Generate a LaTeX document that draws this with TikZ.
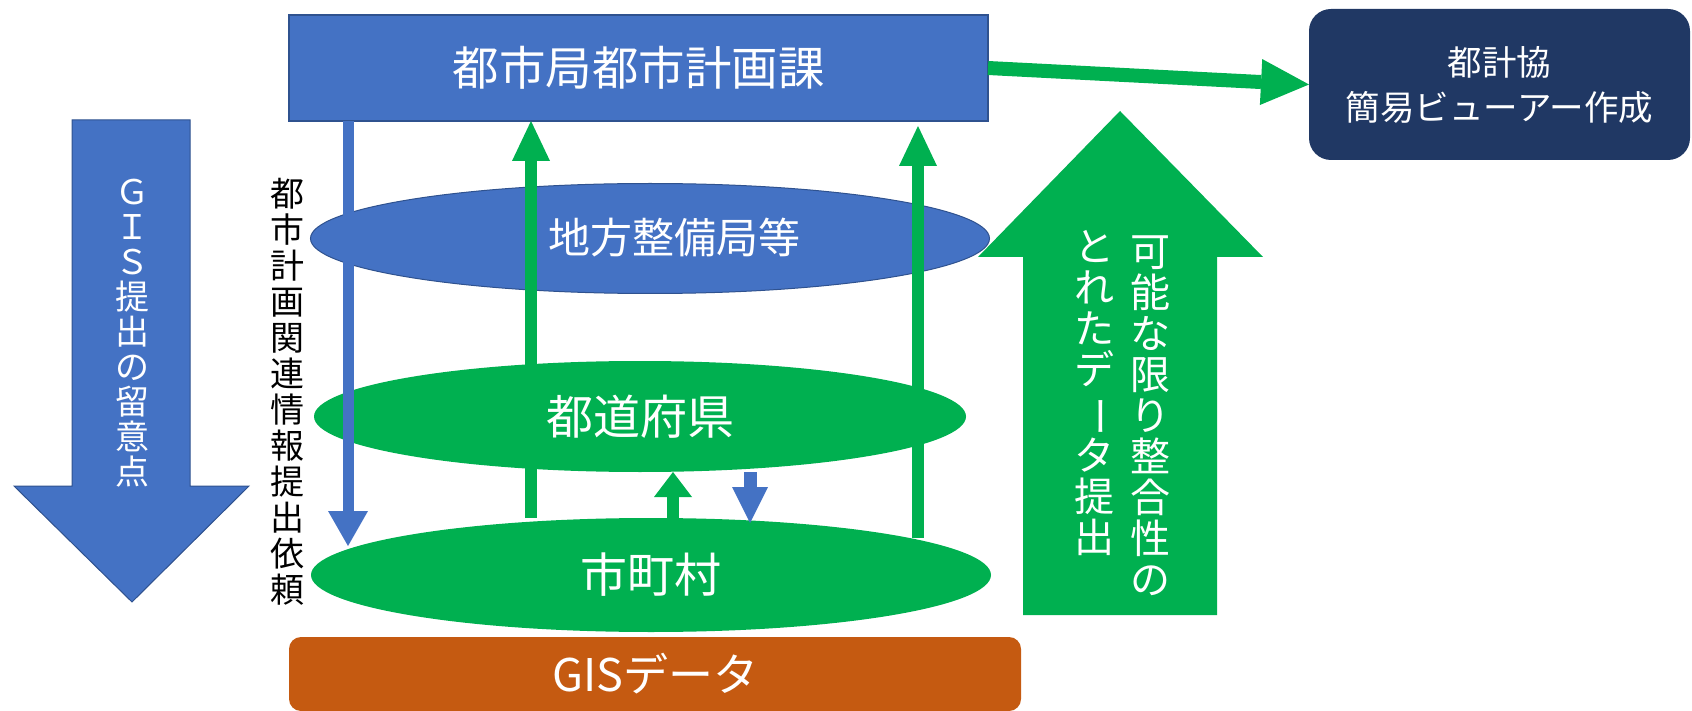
\documentclass[tikz,border=0pt]{standalone}
\usepackage{fontspec}
\setmainfont{Noto Sans CJK JP}
\usepackage{graphicx}
\usetikzlibrary{shapes.geometric,arrows.meta}
\definecolor{mblue}{HTML}{4472C4}
\definecolor{mborder}{HTML}{2F528F}
\definecolor{mgreen}{HTML}{00B050}
\definecolor{mnavy}{HTML}{203864}
\definecolor{morange}{HTML}{C55A11}
\newcommand{\vchoon}{\rotatebox[origin=c]{-90}{ー}}
\begin{document}
\begin{tikzpicture}[x=1pt,y=-1pt,
  every node/.style={inner sep=0pt, outer sep=0pt},
  vtxt/.style={align=center},
  wlbl/.style={text=white},
  garrow/.style={draw=mgreen, line width=12pt, -{Triangle[width=38pt,length=40pt,line width=0pt]}},
  barrow/.style={draw=mblue, line width=11pt, -{Triangle[width=40pt,length=35pt,line width=0pt]}}
]
\useasboundingbox (0,0) rectangle (1692,711);

% big left arrow
\filldraw[fill=mblue, draw=mborder, line width=1pt] (72,120) -- (190,120) -- (190,486) -- (249,486) -- (132,602) -- (14,486) -- (72,486) -- cycle;
\node[vtxt, wlbl, font=\fontsize{34}{35}\selectfont] (ryuui) at (132,333) {Ｇ\\Ｉ\\Ｓ\\提\\出\\の\\留\\意\\点};

% top box
\node[rectangle, fill=mblue, draw=mborder, line width=1.5pt, minimum width=699pt, minimum height=106pt, wlbl, font=\fontsize{46.5}{54}\selectfont] (kacho) at (638.5,68) {都市局都市計画課};

% navy box
\node[rectangle, rounded corners=22pt, fill=mnavy, minimum width=381pt, minimum height=151pt, align=center, wlbl, font=\fontsize{34.5}{45}\selectfont] (toukei) at (1499.5,84.5) {都計協\\簡易ビューアー作成};

% ellipses
\node[ellipse, fill=mblue, draw=mborder, line width=1pt, minimum width=679pt, minimum height=110pt] (chihou) at (650,238.5) {};
\node[wlbl, font=\fontsize{42}{48}\selectfont] (chihoulbl) at (674,238) {地方整備局等};
\node[ellipse, fill=mgreen, minimum width=652pt, minimum height=111pt, wlbl, font=\fontsize{47}{52}\selectfont] (todofuken) at (640,416.5) {都道府県};
\node[ellipse, fill=mgreen, minimum width=680pt, minimum height=114pt, wlbl, font=\fontsize{47}{52}\selectfont] (shichoson) at (651,575) {市町村};

% GIS data box
\node[rectangle, rounded corners=12pt, fill=morange, minimum width=732pt, minimum height=74pt, wlbl, font=\fontsize{45}{50}\selectfont] (gis) at (655,674) {GISデータ};

% vertical black label
\node[vtxt, font=\fontsize{34}{36}\selectfont] (irai) at (287.5,392) {都\\市\\計\\画\\関\\連\\情\\報\\提\\出\\依\\頼};

% big green arrow
\fill[mgreen] (1023,615) -- (1217,615) -- (1217,257) -- (1263,257) -- (1120,111) -- (978,257) -- (1023,257) -- cycle;
\node[vtxt, wlbl, font=\fontsize{40}{41}\selectfont] (col1) at (1150,416) {可\\能\\な\\限\\り\\整\\合\\性\\の};
\node[vtxt, wlbl, font=\fontsize{40}{41}\selectfont] (col2) at (1094,393) {と\\れ\\た\\デ\\\vchoon\\タ\\提\\出};

% coordinates
\coordinate (xA) at (531,0);
\coordinate (xB) at (918,0);
\coordinate (xC) at (673,0);
\coordinate (xD) at (750,0);
\coordinate (xE) at (348,0);
\coordinate (bBot) at (918,538);
\coordinate (bTop) at (918,126);
\coordinate (eTip) at (348,546);

% connectors
\draw[barrow] (kacho.south -| xE) -- (eTip);
\draw[garrow] (shichoson.north -| xA) -- (kacho.south -| xA);
\draw[garrow] (bBot) -- (bTop);
\draw[draw=mgreen, line width=12pt, -{Triangle[width=38pt,length=25pt,line width=0pt]}] (shichoson.north -| xC) -- (todofuken.south -| xC);
\draw[draw=mblue, line width=13pt, -{Triangle[width=36pt,length=36pt,line width=0pt]}] (todofuken.south -| xD) -- ([yshift=-5pt]shichoson.north -| xD);
\draw[draw=mgreen, line width=14pt, -{Triangle[width=46pt,length=48pt,line width=0pt]}] (kacho.east) -- (toukei.west);
\end{tikzpicture}
\end{document}
